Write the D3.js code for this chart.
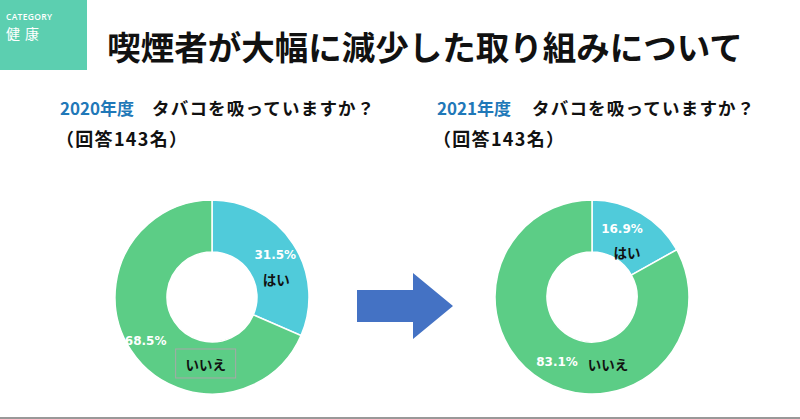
<!DOCTYPE html>
<html><head><meta charset="utf-8">
<script src="https://cdn.jsdelivr.net/npm/d3@7"></script>
<style>body{margin:0;background:#fff;}svg{display:block;}</style>
</head><body>
<script>
const years = ["2020年度", "2021年度"];
const categories = ["はい", "いいえ"];
const values2020 = [31.5, 68.5];
const values2021 = [16.9, 83.1];
const question = "タバコを吸っていますか？";
const respondents = "（回答143名）";
const titleText = "喫煙者が大幅に減少した取り組みについて";

const W = 800, H = 419;
const svg = d3.select("body").append("svg").attr("width", W).attr("height", H);
const jp = "'Noto Sans CJK JP', 'Noto Sans', sans-serif";

// category box
svg.append("rect").attr("x", 0).attr("y", 0).attr("width", 87).attr("height", 70).attr("fill", "#5ccfb0");
svg.append("text").attr("x", 6).attr("y", 20).attr("fill", "#fff").attr("font-family", "'Open Sans', sans-serif")
  .attr("font-size", 8.5).attr("font-weight", 600).attr("letter-spacing", 0.3).text("CATEGORY");
svg.append("text").attr("x", 6).attr("y", 39).attr("fill", "#fff").attr("font-family", jp)
  .attr("font-size", 14).attr("letter-spacing", 5).text("健康");

// title
svg.append("text").attr("x", 425).attr("y", 60).attr("text-anchor", "middle").attr("font-family", jp)
  .attr("font-size", 33.5).attr("font-weight", 700).attr("fill", "#111").text(titleText);

const color = d3.scaleOrdinal().domain(categories).range(["#50cbda", "#5ccd86"]);
const pie = d3.pie().sort(null).value(d => d.v);
const arc = d3.arc().innerRadius(45).outerRadius(97);
const mid = d3.arc().innerRadius(71).outerRadius(71);

const panels = [
  {year: years[0], vals: values2020, tx: 60, qx: 152, cx: 212,
   off: [{p:[4,-3], l:[5,21]}, {p:[-7,5], l:[53,28], box:true}]},
  {year: years[1], vals: values2021, tx: 437, qx: 532, cx: 592,
   off: [{p:[-6,-7], l:[-1,16]}, {p:[1,4], l:[52,6]}]}
];

panels.forEach(pn => {
  const hdr = svg.append("text").attr("x", pn.tx).attr("y", 115).attr("font-family", jp)
    .attr("font-size", 17).attr("font-weight", 700);
  hdr.append("tspan").attr("fill", "#1f78b8").text(pn.year);
  svg.append("text").attr("x", pn.qx).attr("y", 115).attr("font-family", jp).attr("font-size", 17.5)
    .attr("font-weight", 700).attr("fill", "#111").attr("letter-spacing", 1.2).text(question);
  svg.append("text").attr("x", pn.tx - 4).attr("y", 146).attr("font-family", jp).attr("font-size", 18)
    .attr("font-weight", 700).attr("fill", "#111").attr("letter-spacing", 1.3).text(respondents);

  const g = svg.append("g").attr("transform", `translate(${pn.cx},297)`);
  const data = pie(categories.map((c, i) => ({c, v: pn.vals[i]})));
  g.selectAll("path").data(data).join("path").attr("d", arc)
    .attr("fill", d => color(d.data.c)).attr("stroke", "#fff").attr("stroke-width", 1.5);
  data.forEach((d, i) => {
    const [x, y] = mid.centroid(d);
    const o = pn.off[i];
    g.append("text").attr("x", x + o.p[0]).attr("y", y + o.p[1]).attr("text-anchor", "middle")
      .attr("dominant-baseline", "central").attr("font-family", "'DejaVu Sans', Verdana, sans-serif")
      .attr("font-size", 12).attr("font-weight", 700).attr("fill", "#fff").text(d.data.v.toFixed(1) + "%");
    if (o.box) {
      g.append("rect").attr("x", x + o.l[0] - 30).attr("y", y + o.l[1] - 15).attr("width", 60).attr("height", 29)
        .attr("fill", "none").attr("stroke", "#a8a8a8").attr("stroke-width", 1);
    }
    g.append("text").attr("x", x + o.l[0]).attr("y", y + o.l[1]).attr("text-anchor", "middle")
      .attr("dominant-baseline", "central").attr("font-family", jp)
      .attr("font-size", 13.5).attr("font-weight", 700).attr("fill", "#111").text(d.data.c);
  });
});

// arrow
svg.append("path").attr("d", "M357,290 L413,290 L413,273 L453,306 L413,339 L413,322 L357,322 Z")
  .attr("fill", "#4472c4");

// bottom line
svg.append("line").attr("x1", 0).attr("x2", W).attr("y1", 418).attr("y2", 418)
  .attr("stroke", "#999").attr("stroke-width", 2);
</script>
</body></html>
